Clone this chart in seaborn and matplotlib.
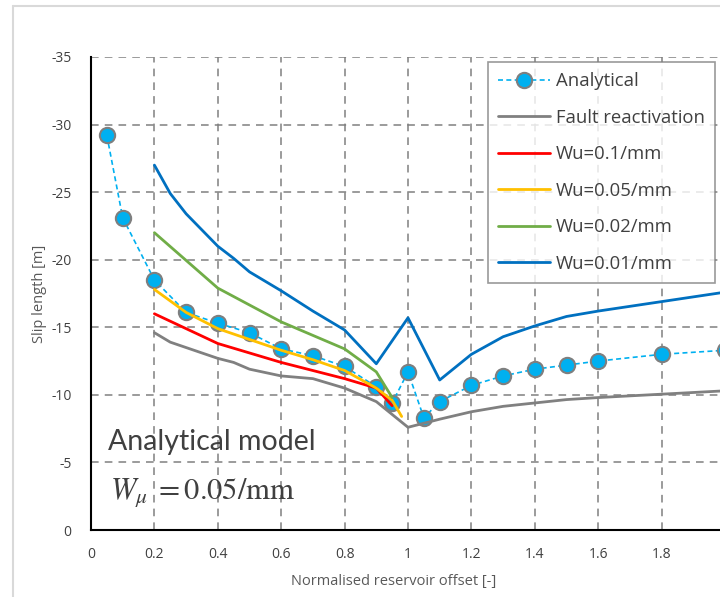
import numpy as np
import pandas as pd
import matplotlib
matplotlib.use("Agg")
import matplotlib.pyplot as plt
from matplotlib.lines import Line2D
import seaborn as sns

# data
ana_x = [0.05, 0.1, 0.2, 0.3, 0.4, 0.5, 0.6, 0.7, 0.8, 0.9, 0.95, 1.0, 1.05, 1.1, 1.2, 1.3, 1.4, 1.5, 1.6, 1.8, 2.0]
ana_y = [-29.2, -23.1, -18.5, -16.1, -15.3, -14.6, -13.4, -12.9, -12.1, -10.6, -9.4, -11.7, -8.3, -9.5, -10.7, -11.4, -11.9, -12.2, -12.5, -13.0, -13.3]

fault_x = [0.2, 0.25, 0.4, 0.45, 0.5, 0.6, 0.7, 0.8, 0.9, 1.0, 1.1, 1.2, 1.3, 1.4, 1.5, 1.6, 1.8, 2.0]
fault_y = [-14.6, -13.9, -12.7, -12.4, -11.9, -11.4, -11.2, -10.5, -9.5, -7.6, -8.2, -8.75, -9.15, -9.4, -9.65, -9.8, -10.05, -10.3]

wu01_x = [0.2, 0.4, 0.6, 0.8, 0.9, 0.95]
wu01_y = [-16.0, -13.8, -12.4, -11.2, -10.5, -9.2]

wu005_x = [0.2, 0.3, 0.4, 0.5, 0.6, 0.7, 0.8, 0.9, 0.95, 0.98]
wu005_y = [-17.8, -16.1, -14.9, -14.1, -13.3, -12.6, -11.8, -10.5, -9.6, -8.4]

wu002_x = [0.2, 0.4, 0.6, 0.7, 0.8, 0.9, 0.95]
wu002_y = [-22.0, -17.9, -15.4, -14.4, -13.4, -11.7, -9.8]

wu001_x = [0.2, 0.25, 0.3, 0.4, 0.45, 0.5, 0.6, 0.7, 0.8, 0.9, 1.0, 1.1, 1.2, 1.3, 1.4, 1.5, 1.6, 1.8, 2.0]
wu001_y = [-27.0, -24.9, -23.4, -21.0, -20.1, -19.1, -17.7, -16.2, -14.8, -12.3, -15.7, -11.1, -13.0, -14.3, -15.1, -15.8, -16.2, -16.9, -17.6]

# the x=2 tick sits just past the cropped right edge, so its label is not shown
x_ticks = [0, 0.2, 0.4, 0.6, 0.8, 1, 1.2, 1.4, 1.6, 1.8, 2]
x_tick_labels = ["0", "0.2", "0.4", "0.6", "0.8", "1", "1.2", "1.4", "1.6", "1.8", ""]
y_ticks = [0, -5, -10, -15, -20, -25, -30, -35]

sns.set_style("white")
plt.rcParams['font.family'] = ['Open Sans', 'DejaVu Sans']
plt.rcParams['axes.unicode_minus'] = False
plt.rcParams['mathtext.fontset'] = 'stix'

fig = plt.figure(figsize=(7.2, 5.97), dpi=100)
ax = fig.add_axes([91 / 720, 1 - 530 / 597, 634 / 720, 473 / 597])

# outer chart border (partly cropped)
fig.add_artist(Line2D([13 / 720, 13 / 720], [0, 1 - 6 / 597], transform=fig.transFigure, color="#D9D9D9", lw=1.5))
fig.add_artist(Line2D([13 / 720, 1], [1 - 6 / 597, 1 - 6 / 597], transform=fig.transFigure, color="#D9D9D9", lw=1.5))

sns.lineplot(x=ana_x, y=ana_y, ax=ax, color="#00B0F0", linestyle=(0, (3, 2)), lw=1.2,
             marker="o", markersize=11, markerfacecolor="#00B0F0", markeredgecolor="#7F7F7F",
             markeredgewidth=1.5, label="Analytical", estimator=None, sort=False)
sns.lineplot(x=fault_x, y=fault_y, ax=ax, color="#808080", lw=2, label="Fault reactivation", estimator=None, sort=False)
sns.lineplot(x=wu01_x, y=wu01_y, ax=ax, color="#FF0000", lw=2, label="Wu=0.1/mm", estimator=None, sort=False)
sns.lineplot(x=wu005_x, y=wu005_y, ax=ax, color="#FFC000", lw=2, label="Wu=0.05/mm", estimator=None, sort=False)
sns.lineplot(x=wu002_x, y=wu002_y, ax=ax, color="#70AD47", lw=2, label="Wu=0.02/mm", estimator=None, sort=False)
sns.lineplot(x=wu001_x, y=wu001_y, ax=ax, color="#0070C0", lw=2, label="Wu=0.01/mm", estimator=None, sort=False)

ax.set_xlim(0, 2)
ax.set_ylim(0, -35)
ax.set_xticks(x_ticks)
ax.set_xticklabels(x_tick_labels)
ax.set_yticks(y_ticks)
ax.tick_params(axis="both", length=0, labelsize=10, labelcolor="#404040")
ax.tick_params(axis="y", pad=14)
ax.tick_params(axis="x", pad=12)

ax.grid(True, linestyle=(0, (5, 4)), color="#808080", lw=1.1)
for s in ["top", "right"]:
    ax.spines[s].set_visible(False)
for s in ["left", "bottom"]:
    ax.spines[s].set_color("black")
    ax.spines[s].set_linewidth(1.5)

ax.set_ylabel("Slip length [m]", fontsize=10.5, color="#595959", labelpad=3)
ax.set_xlabel("Normalised reservoir offset [-]", fontsize=10.5, color="#595959", labelpad=10)
ax.xaxis.set_label_coords((394 - 91) / 634, -0.093)

leg = ax.legend(loc="upper right", bbox_to_anchor=(0.984, 0.989), borderaxespad=0,
                fontsize=13.3, frameon=True, fancybox=False, edgecolor="#808080",
                labelspacing=1.0, handlelength=2.8, handletextpad=0.3, borderpad=0.55)
leg.get_frame().set_linewidth(1.2)
for t in leg.get_texts():
    t.set_color("#404040")

ax.text(0.054, -5.9, "Analytical model", fontsize=20.5, color="#404040", family="Lato", va="baseline")
ax.text(0.06, -2.3, r"$W_\mu \;= 0.05/\mathrm{mm}$", fontsize=22, color="#404040", va="baseline")

fig.savefig("out.png", dpi=100)
